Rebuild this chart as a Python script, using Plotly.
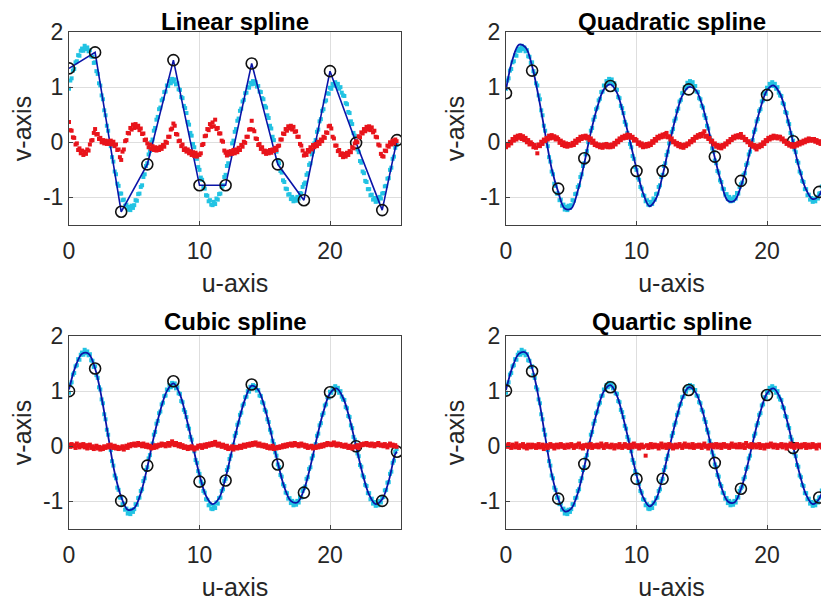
import plotly.graph_objects as go

W, H = 829, 605

# sample positions of the measured data (u-axis)
u_data = [round(i * 0.1, 1) for i in range(252)]

# measured (noisy) data, cyan dots
v_data = [
    0.97, 1.12, 1.16, 1.30, 1.33, 1.45, 1.47, 1.58, 1.57, 1.66,
    1.70, 1.66, 1.75, 1.69, 1.72, 1.65, 1.67, 1.56, 1.55, 1.44,
    1.45, 1.29, 1.24, 1.07, 1.03, 0.85, 0.78, 0.58, 0.49, 0.30,
    0.21, 0.01, -0.07, -0.27, -0.35, -0.53, -0.58, -0.75, -0.79, -0.93,
    -0.93, -1.05, -1.04, -1.15, -1.13, -1.22, -1.17, -1.23, -1.15, -1.19,
    -1.14, -1.05, -1.06, -0.94, -0.93, -0.81, -0.78, -0.63, -0.58, -0.43,
    -0.38, -0.22, -0.16, 0.00, 0.05, 0.21, 0.26, 0.41, 0.46, 0.60,
    0.63, 0.76, 0.79, 0.91, 0.92, 1.03, 1.02, 1.11, 1.07, 1.15,
    1.10, 1.14, 1.05, 1.07, 0.96, 0.95, 0.82, 0.80, 0.66, 0.62,
    0.53, 0.37, 0.32, 0.17, 0.12, -0.03, -0.09, -0.25, -0.30, -0.45,
    -0.50, -0.64, -0.68, -0.81, -0.84, -0.96, -0.97, -1.07, -1.05, -1.13,
    -1.14, -1.08, -1.12, -1.02, -1.04, -0.94, -0.93, -0.81, -0.78, -0.63,
    -0.59, -0.43, -0.38, -0.23, -0.17, -0.02, 0.03, 0.19, 0.24, 0.39,
    0.43, 0.57, 0.61, 0.74, 0.77, 0.89, 0.90, 1.00, 0.99, 1.08,
    1.05, 1.11, 1.06, 1.09, 1.01, 1.02, 0.92, 0.91, 0.80, 0.78,
    0.66, 0.63, 0.49, 0.44, 0.30, 0.25, 0.10, 0.04, -0.11, -0.17,
    -0.33, -0.38, -0.52, -0.55, -0.69, -0.72, -0.84, -0.85, -0.95, -0.94,
    -1.03, -0.99, -1.07, -1.02, -1.06, -0.99, -1.02, -0.92, -0.93, -0.81,
    -0.76, -0.73, -0.59, -0.56, -0.41, -0.38, -0.22, -0.17, -0.02, 0.04,
    0.19, 0.23, 0.38, 0.42, 0.57, 0.60, 0.74, 0.76, 0.89, 0.88,
    0.99, 0.97, 1.06, 1.03, 1.09, 1.02, 1.06, 0.97, 1.00, 0.90,
    0.85, 0.84, 0.71, 0.69, 0.55, 0.53, 0.38, 0.33, 0.17, 0.12,
    0.03, -0.13, -0.18, -0.34, -0.37, -0.53, -0.56, -0.70, -0.72, -0.85,
    -0.85, -0.96, -0.95, -1.04, -1.01, -1.08, -1.03, -1.07, -0.99, -1.02,
    -0.93, -0.92, -0.80, -0.79, -0.66, -0.65, -0.50, -0.46, -0.30, -0.26,
    -0.10, -0.05,
]

# residuals (red dots) per spline order
res_linear = [
    0.37, 0.22, 0.21, 0.09, 0.08, -0.04, -0.02, -0.14, -0.11, -0.20,
    -0.15, -0.23, -0.17, -0.21, -0.13, -0.15, -0.04, 0.03, 0.04, 0.17,
    0.24, 0.14, 0.15, 0.06, 0.08, 0.00, 0.04, -0.02, 0.03, -0.03,
    0.02, -0.03, 0.03, -0.04, 0.01, -0.07, -0.04, -0.14, -0.13, -0.27,
    -0.32, -0.17, -0.13, 0.02, 0.04, 0.17, 0.16, 0.26, 0.23, 0.32,
    0.26, 0.33, 0.27, 0.30, 0.22, 0.25, 0.15, 0.16, 0.04, 0.05,
    -0.02, -0.09, -0.04, -0.12, -0.07, -0.14, -0.09, -0.15, -0.10, -0.14,
    -0.08, -0.12, -0.05, -0.08, 0.01, -0.01, 0.10, 0.10, 0.23, 0.25,
    0.34, 0.30, 0.15, 0.14, 0.02, 0.03, -0.07, -0.04, -0.14, -0.11,
    -0.17, -0.13, -0.20, -0.16, -0.23, -0.18, -0.25, -0.19, -0.26, -0.22,
    -0.23, -0.20, -0.05, -0.03, 0.11, 0.12, 0.24, 0.22, 0.33, 0.28,
    0.36, 0.29, 0.41, 0.24, 0.26, 0.16, 0.16, 0.03, 0.01, -0.15,
    -0.19, -0.24, -0.17, -0.22, -0.16, -0.21, -0.14, -0.20, -0.13, -0.18,
    -0.10, -0.14, -0.05, -0.08, 0.01, -0.01, 0.10, 0.10, 0.23, 0.24,
    0.39, 0.23, 0.20, 0.07, 0.06, -0.05, -0.03, -0.12, -0.09, -0.18,
    -0.15, -0.21, -0.16, -0.20, -0.14, -0.19, -0.13, -0.16, -0.10, -0.14,
    -0.07, -0.06, 0.05, 0.05, 0.16, 0.15, 0.24, 0.21, 0.29, 0.25,
    0.30, 0.23, 0.28, 0.19, 0.20, 0.10, 0.10, -0.03, -0.06, -0.15,
    -0.24, -0.20, -0.23, -0.14, -0.17, -0.09, -0.13, -0.05, -0.09, -0.03,
    -0.07, 0.01, -0.03, 0.05, 0.02, 0.10, 0.08, 0.18, 0.17, 0.29,
    0.30, 0.25, 0.10, 0.07, -0.06, -0.06, -0.16, -0.14, -0.23, -0.20,
    -0.27, -0.21, -0.26, -0.19, -0.23, -0.16, -0.18, -0.09, -0.11, -0.02,
    0.02, 0.00, 0.11, 0.09, 0.18, 0.16, 0.24, 0.20, 0.28, 0.23,
    0.29, 0.22, 0.27, 0.18, 0.21, 0.10, 0.09, -0.04, -0.06, -0.21,
    -0.25, -0.26, -0.15, -0.16, -0.06, -0.08, 0.00, -0.04, 0.03, -0.02,
    0.05, 0.02,
]

res_quadratic = [
    -0.09, -0.03, -0.06, 0.01, -0.02, 0.06, 0.03, 0.10, 0.05, 0.12,
    0.08, 0.13, 0.06, 0.11, 0.04, 0.08, 0.00, 0.04, -0.04, 0.00,
    -0.03, -0.09, -0.05, -0.10, -0.20, -0.04, -0.07, 0.01, -0.03, 0.05,
    0.02, 0.08, 0.05, 0.12, 0.07, 0.13, 0.08, 0.11, 0.05, 0.09,
    0.06, -0.01, 0.03, -0.05, 0.00, -0.07, -0.02, -0.08, -0.03, -0.06,
    -0.06, -0.01, -0.05, 0.03, -0.01, 0.06, 0.03, 0.10, 0.06, 0.11,
    0.08, 0.12, 0.07, 0.10, 0.04, 0.07, -0.01, 0.03, -0.05, -0.02,
    -0.07, -0.04, -0.09, -0.05, -0.10, -0.04, -0.08, -0.03, -0.09, -0.05,
    -0.09, -0.04, -0.08, -0.01, -0.04, 0.03, 0.00, 0.07, 0.04, 0.10,
    0.07, 0.12, 0.08, 0.14, 0.09, 0.13, 0.08, 0.10, 0.03, 0.06,
    0.04, -0.03, 0.00, -0.06, -0.02, -0.09, -0.04, -0.08, -0.03, -0.07,
    -0.02, -0.05, 0.02, -0.01, 0.06, 0.03, 0.10, 0.07, 0.12, 0.09,
    0.14, 0.10, 0.15, 0.17, 0.09, 0.11, 0.05, 0.07, 0.00, 0.02,
    -0.04, -0.01, -0.07, -0.03, -0.09, -0.05, -0.10, -0.04, -0.07, -0.02,
    -0.04, 0.02, 0.00, 0.06, 0.03, 0.10, 0.08, 0.13, 0.10, 0.15,
    0.11, 0.16, 0.20, 0.10, 0.12, 0.06, 0.08, 0.01, 0.03, -0.04,
    -0.02, -0.08, -0.05, -0.10, -0.06, -0.11, -0.05, -0.08, -0.02, -0.04,
    0.02, 0.00, 0.06, 0.04, 0.10, 0.07, 0.12, 0.09, 0.13, 0.09,
    0.15, 0.08, 0.10, 0.04, 0.06, 0.00, 0.02, -0.05, -0.02, -0.08,
    -0.05, -0.10, -0.13, -0.06, -0.09, -0.04, -0.07, 0.00, -0.03, 0.04,
    0.02, 0.08, 0.05, 0.10, 0.07, 0.12, 0.08, 0.11, 0.07, 0.10,
    0.10, 0.05, 0.07, 0.01, 0.03, -0.03, -0.01, -0.06, -0.03, -0.08,
    -0.04, -0.08, -0.03, -0.06, -0.01, -0.04, 0.01, -0.02, 0.03, 0.00,
    0.05, 0.02, 0.07, 0.03, 0.06, 0.03, 0.06, 0.01, 0.04, -0.01,
    0.02, -0.03, 0.00, -0.04, -0.01, 0.01, -0.02, 0.03, 0.00, 0.05,
    0.02, 0.04,
]

res_cubic = [
    0.03, -0.01, 0.04, 0.00, 0.02, -0.03, 0.05, 0.01, -0.02, 0.03,
    0.00, 0.04, -0.02, 0.02, -0.04, 0.01, 0.03, -0.03, 0.00, -0.05,
    -0.02, 0.01, -0.04, -0.01, -0.06, -0.02, -0.05, 0.00, -0.03, -0.01,
    0.02, -0.02, 0.03, 0.00, -0.03, 0.01, -0.04, -0.01, -0.05, -0.02,
    -0.04, 0.00, -0.06, -0.02, 0.01, -0.03, 0.03, 0.00, 0.04, 0.02,
    0.05, 0.01, 0.03, 0.06, 0.02, 0.04, 0.00, 0.05, 0.02, -0.01,
    0.03, -0.02, 0.01, -0.04, -0.01, -0.03, 0.02, -0.02, 0.00, 0.03,
    0.01, 0.05, 0.02, 0.04, 0.00, 0.03, 0.06, 0.01, 0.04, 0.09,
    0.05, 0.02, 0.06, 0.03, 0.00, 0.04, -0.01, 0.02, -0.03, 0.00,
    -0.02, -0.05, -0.01, -0.04, 0.00, -0.03, -0.06, -0.02, -0.04, 0.01,
    -0.01, 0.02, -0.03, 0.00, 0.03, -0.01, 0.04, 0.01, 0.05, 0.02,
    0.06, 0.03, 0.08, 0.04, 0.01, 0.05, 0.02, -0.01, 0.03, 0.00,
    -0.03, 0.01, -0.05, -0.02, -0.04, 0.00, -0.06, -0.03, -0.01, -0.04,
    -0.02, 0.01, -0.03, 0.00, 0.03, -0.01, 0.02, 0.04, 0.01, 0.05,
    0.02, 0.06, 0.03, 0.07, 0.04, 0.01, 0.05, 0.02, 0.00, 0.03,
    -0.01, 0.02, -0.03, 0.00, -0.04, -0.02, 0.01, -0.05, -0.02, -0.04,
    -0.01, -0.03, 0.00, -0.02, 0.02, -0.01, 0.03, 0.00, 0.04, 0.02,
    0.05, 0.01, 0.03, 0.06, 0.02, 0.04, 0.00, 0.03, 0.05, 0.01,
    0.03, -0.01, 0.02, -0.03, 0.00, -0.02, 0.01, -0.04, -0.01, -0.03,
    0.00, -0.02, 0.02, -0.01, 0.03, 0.00, 0.04, 0.02, 0.06, 0.03,
    0.05, 0.02, 0.04, 0.07, 0.03, 0.01, 0.05, 0.02, 0.04, 0.00,
    0.02, -0.01, 0.03, 0.00, -0.03, 0.01, -0.02, -0.04, 0.00, -0.02,
    -0.01, 0.02, -0.03, 0.01, 0.04, 0.02, 0.05, 0.03, 0.06, 0.02,
    0.04, 0.01, 0.05, 0.03, 0.00, 0.04, 0.02, 0.06, 0.03, 0.01,
    0.03, 0.00, 0.04, 0.01, -0.02, 0.02, 0.05, 0.01, 0.03, 0.00,
    0.02, -0.01,
]

res_quartic = [
    0.02, -0.01, 0.04, 0.00, -0.03, 0.03, 0.01, -0.02, 0.05, 0.00,
    -0.03, 0.02, 0.00, 0.04, -0.02, 0.01, -0.04, 0.03, 0.00, -0.02,
    0.03, -0.01, 0.02, -0.03, 0.01, 0.04, -0.02, 0.00, 0.03, -0.05,
    0.00, 0.02, -0.03, 0.01, 0.04, -0.01, 0.02, -0.04, 0.00, 0.03,
    -0.02, 0.01, 0.04, -0.01, 0.02, -0.03, 0.00, 0.03, -0.02, 0.01,
    0.04, 0.00, -0.03, 0.02, -0.01, 0.03, 0.05, -0.02, 0.01, -0.04,
    0.02, 0.00, 0.03, -0.02, 0.01, 0.04, -0.03, 0.00, 0.02, -0.01,
    0.03, -0.02, 0.01, 0.05, 0.00, -0.03, 0.02, 0.04, -0.01, 0.01,
    -0.02, 0.03, 0.00, -0.04, 0.02, 0.01, -0.02, 0.04, 0.00, -0.03,
    0.01, 0.04, -0.01, 0.02, -0.03, 0.00, 0.03, -0.02, 0.05, 0.01,
    -0.01, 0.02, -0.04, 0.01, 0.03, -0.02, 0.00, -0.17, 0.02, -0.03,
    0.01, 0.04, -0.02, 0.00, 0.03, -0.01, 0.02, -0.04, 0.01, 0.05,
    -0.02, 0.00, 0.03, -0.03, 0.01, 0.04, -0.01, 0.02, -0.04, 0.00,
    0.03, -0.02, 0.01, 0.04, 0.00, -0.03, 0.02, 0.05, -0.01, 0.01,
    0.03, -0.02, 0.00, 0.04, -0.03, 0.01, 0.02, -0.01, 0.03, 0.00,
    -0.03, 0.02, 0.05, -0.01, 0.01, -0.04, 0.02, 0.00, 0.03, -0.02,
    0.01, 0.04, -0.02, 0.00, 0.03, -0.03, 0.01, 0.04, -0.01, 0.02,
    0.00, -0.03, 0.02, 0.05, -0.01, 0.01, 0.03, -0.02, 0.00, 0.04,
    -0.02, 0.01, 0.03, -0.03, 0.06, 0.00, 0.02, -0.01, 0.04, -0.02,
    0.01, 0.03, -0.02, 0.00, 0.04, -0.03, 0.01, 0.02, -0.04, 0.00,
    0.03, -0.01, 0.02, 0.05, 0.00, -0.02, 0.03, 0.01, -0.03, 0.02,
    0.00, 0.04, -0.02, 0.01, 0.03, -0.04, 0.02, 0.00, 0.05, -0.01,
    0.02, -0.03, 0.01, 0.04, -0.01, 0.02, -0.02, 0.03, 0.00, 0.04,
    -0.03, 0.01, 0.03, -0.02, 0.00, 0.04, -0.01, 0.02, -0.04, 0.01,
    0.03, 0.00, -0.02, 0.04, 0.01, -0.03, 0.02, 0.00, 0.03, -0.01,
    0.01, 0.03,
]

# knot positions and control-point values (black circles)
u_knots = [0, 2, 4, 6, 8, 10, 12, 14, 16, 18, 20, 22, 24, 25.13]
knots_linear = [1.34, 1.63, -1.26, -0.40, 1.49, -0.78, -0.78, 1.43, -0.40, -1.05, 1.29, -0.01, -1.23, 0.04]
knots_quadratic = [0.89, 1.30, -0.84, -0.29, 1.02, -0.52, -0.52, 0.96, -0.26, -0.70, 0.86, 0.02, -0.90, -0.05]
knots_cubic = [1.00, 1.41, -0.99, -0.35, 1.18, -0.64, -0.62, 1.12, -0.33, -0.84, 0.98, 0.00, -0.99, -0.10]
knots_quartic = [1.01, 1.36, -0.95, -0.32, 1.07, -0.59, -0.59, 1.02, -0.30, -0.77, 0.93, -0.03, -0.93, -0.02]

# fitted spline curves (blue) sampled along u
u_fit = [i * 0.5 for i in range(51)] + [25.13]
fit_quadratic = [
    0.95, 1.50, 1.77, 1.72, 1.38, 0.82, 0.16, -0.48, -0.90, -1.20,
    -1.20, -0.88, -0.38, 0.18, 0.64, 0.96, 1.05, 0.90, 0.50, 0.02,
    -0.48, -0.92, -1.16, -1.02, -0.60, -0.06, 0.45, 0.84, 1.00, 0.96,
    0.70, 0.25, -0.28, -0.74, -1.06, -1.06, -0.80, -0.36, 0.16, 0.62,
    0.94, 1.03, 0.88, 0.50, 0.00, -0.50, -0.86, -1.03, -0.96, -0.64,
    -0.15, -0.03,
]
fit_cubic = [
    1.03, 1.45, 1.68, 1.68, 1.41, 0.88, 0.19, -0.48, -0.92, -1.15,
    -1.12, -0.85, -0.38, 0.17, 0.65, 1.00, 1.14, 0.94, 0.51, 0.00,
    -0.52, -0.90, -1.05, -0.94, -0.57, -0.06, 0.45, 0.86, 1.10, 1.02,
    0.70, 0.22, -0.30, -0.74, -0.99, -1.02, -0.79, -0.36, 0.16, 0.63,
    0.96, 1.05, 0.88, 0.50, 0.00, -0.50, -0.88, -1.05, -0.96, -0.63,
    -0.14, -0.10,
]
fit_quartic = [
    1.02, 1.44, 1.68, 1.70, 1.42, 0.88, 0.18, -0.50, -0.95, -1.18,
    -1.13, -0.85, -0.37, 0.17, 0.65, 1.00, 1.11, 0.92, 0.50, 0.00,
    -0.52, -0.92, -1.09, -0.96, -0.56, -0.05, 0.45, 0.86, 1.07, 0.99,
    0.69, 0.22, -0.30, -0.74, -1.00, -1.02, -0.78, -0.35, 0.16, 0.63,
    0.96, 1.05, 0.88, 0.50, 0.00, -0.50, -0.88, -1.05, -0.95, -0.62,
    -0.13, -0.02,
]

titles = ["Linear spline", "Quadratic spline", "Cubic spline", "Quartic spline"]
x_ticks = [0, 10, 20]
y_ticks = [-1, 0, 1, 2]
y_tick_text = ["-1", "0", "1", "2"]

CYAN = "#22c3e3"
BLUE = "#0a14a8"
RED = "#e8141b"
AX = "#404040"
TXT = "#262626"
GRID = "#dedede"
FONT = "Liberation Sans, Arial, Helvetica, sans-serif"

# panel boxes in figure pixels (page body adds an 8px offset on screen)
L_LEFT, L_RIGHT = 61, 393
R_LEFT = 498
TOP1, BOT1 = 24, 217
TOP2, BOT2 = 328, 521
PX_PER_U = (L_RIGHT - L_LEFT) / 25.44

panels = [
    dict(name="linear", fit=None, knots=knots_linear, res=res_linear, col=0, row=0),
    dict(name="quadratic", fit=fit_quadratic, knots=knots_quadratic, res=res_quadratic, col=1, row=0),
    dict(name="cubic", fit=fit_cubic, knots=knots_cubic, res=res_cubic, col=0, row=1),
    dict(name="quartic", fit=fit_quartic, knots=knots_quartic, res=res_quartic, col=1, row=1),
]

fig = go.Figure()
layout = {}
annotations = []

for i, p in enumerate(panels):
    k = "" if i == 0 else str(i + 1)
    xa, ya = "x" + k, "y" + k
    if p["col"] == 0:
        xdom = [L_LEFT / W, L_RIGHT / W]
        xr = [0, 25.44]
        cx = (L_LEFT + L_RIGHT) / 2
    else:
        xdom = [R_LEFT / W, 1.0]
        xr = [0, (W - R_LEFT) / PX_PER_U]
        cx = R_LEFT + (L_RIGHT - L_LEFT) / 2
    top, bot = (TOP1, BOT1) if p["row"] == 0 else (TOP2, BOT2)
    ydom = [1 - bot / H, 1 - top / H]
    title_gap = 10 if p["row"] == 0 else 15

    fig.add_trace(go.Scatter(x=u_data, y=v_data, mode="markers", xaxis=xa, yaxis=ya,
                             marker=dict(symbol="square", size=4, color=CYAN, line=dict(width=0)),
                             showlegend=False, hoverinfo="skip"))
    if p["fit"] is None:
        fig.add_trace(go.Scatter(x=u_knots, y=p["knots"], mode="lines", xaxis=xa, yaxis=ya,
                                 line=dict(color=BLUE, width=1.6), showlegend=False))
    else:
        fig.add_trace(go.Scatter(x=u_fit, y=p["fit"], mode="lines", xaxis=xa, yaxis=ya,
                                 line=dict(color=BLUE, width=1.8, shape="spline", smoothing=1.0),
                                 showlegend=False))
    fig.add_trace(go.Scatter(x=u_knots, y=p["knots"], mode="markers", xaxis=xa, yaxis=ya,
                             marker=dict(symbol="circle-open", size=11, color="#111111",
                                         line=dict(width=1.6, color="#111111")),
                             showlegend=False))
    fig.add_trace(go.Scatter(x=u_data, y=p["res"], mode="markers", xaxis=xa, yaxis=ya,
                             marker=dict(symbol="square", size=4, color=RED, line=dict(width=0)),
                             showlegend=False, hoverinfo="skip"))

    layout["xaxis" + k] = dict(
        domain=xdom, range=xr, anchor=ya, tickvals=x_ticks, ticktext=[str(t) for t in x_ticks],
        showgrid=True, gridcolor=GRID, gridwidth=1, zeroline=False,
        showline=True, linecolor=AX, linewidth=1, mirror=True,
        ticks="inside", ticklen=4, tickcolor=AX, automargin=False, ticklabelstandoff=5,
        tickfont=dict(family=FONT, size=23, color=TXT),
        title=dict(text="u-axis", font=dict(family=FONT, size=25, color=TXT), standoff=11),
    )
    layout["yaxis" + k] = dict(
        domain=ydom, range=[-1.5, 2], anchor=xa, tickvals=y_ticks, ticktext=y_tick_text,
        showgrid=True, gridcolor=GRID, gridwidth=1, zeroline=False,
        showline=True, linecolor=AX, linewidth=1, mirror=(p["col"] == 0),
        ticks="inside", ticklen=4, tickcolor=AX, automargin=False,
        tickfont=dict(family=FONT, size=23, color=TXT),
        title=dict(text="v-axis", font=dict(family=FONT, size=25, color=TXT), standoff=8),
    )
    annotations.append(dict(
        text="<b>" + titles[i] + "</b>", x=cx / W, y=1 - (top - title_gap) / H,
        xref="paper", yref="paper", xanchor="center", yanchor="middle", showarrow=False,
        font=dict(family=FONT, size=24, color="#000000"),
    ))

fig.update_layout(
    width=W, height=H, margin=dict(l=0, r=0, t=0, b=0, autoexpand=False),
    paper_bgcolor="white", plot_bgcolor="white",
    annotations=annotations, showlegend=False, **layout,
)

fig.write_html("out.html")
